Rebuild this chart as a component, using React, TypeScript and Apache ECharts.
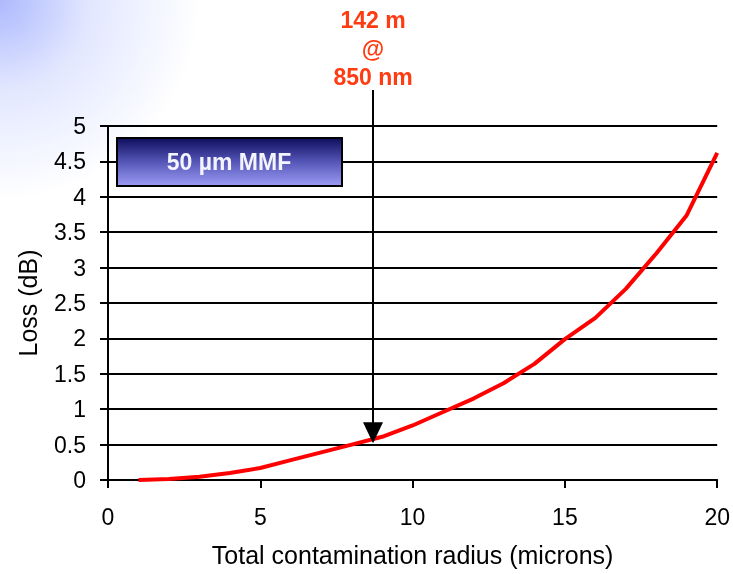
import React, { useEffect, useRef } from "react";
import * as echarts from "echarts";

const radius: number[] = [1, 2, 3, 4, 5, 6, 7, 8, 9, 10, 11, 12, 13, 14, 15, 16, 17, 18, 19, 20];
const loss: number[] = [0, 0.015, 0.045, 0.1, 0.17, 0.28, 0.39, 0.5, 0.61, 0.77, 0.96, 1.15, 1.37, 1.64, 1.99, 2.29, 2.7, 3.2, 3.74, 4.62];
const annotationLines: string[] = ["142 m", "@", "850 nm"];
const arrowPoint: number[] = [8.7, 0.52];
const boxLabel = "50 µm MMF";
const xName = "Total contamination radius (microns)";
const yName = "Loss (dB)";

const bgStops = [
  { offset: 0, color: "#adb9fd" },
  { offset: 0.45, color: "#e2e7ff" },
  { offset: 1, color: "#ffffff" },
];

export default function App() {
  const ref = useRef<HTMLDivElement>(null);
  useEffect(() => {
    if (!ref.current) return;
    const chart = echarts.init(ref.current, null, { renderer: "svg" });
    const font = "Liberation Sans, Arial, sans-serif";
    chart.setOption({
      animation: false,
      backgroundColor: "transparent",
      grid: { left: 108, right: 13, top: 126, bottom: 94, containLabel: false },
      xAxis: {
        type: "value",
        min: 0,
        max: 20,
        interval: 5,
        name: xName,
        nameLocation: "middle",
        nameGap: 62,
        nameTextStyle: { fontFamily: font, fontSize: 25, color: "#000" },
        axisLine: { show: true, lineStyle: { color: "#000", width: 2 } },
        axisTick: { show: true, length: 8, lineStyle: { color: "#000", width: 2 } },
        axisLabel: { fontFamily: font, fontSize: 23, color: "#000", margin: 25 },
        splitLine: { show: false },
      },
      yAxis: {
        type: "value",
        min: 0,
        max: 5,
        interval: 0.5,
        name: yName,
        nameLocation: "middle",
        nameGap: 68,
        nameTextStyle: { fontFamily: font, fontSize: 25, color: "#000" },
        axisLine: { show: true, lineStyle: { color: "#000", width: 2 } },
        axisTick: { show: true, length: 8, lineStyle: { color: "#000", width: 2 } },
        axisLabel: { fontFamily: font, fontSize: 23, color: "#000", margin: 22 },
        splitLine: { show: true, lineStyle: { color: "#000", width: 2 } },
      },
      series: [
        {
          type: "line",
          data: radius.map((r, i) => [r, loss[i]]),
          showSymbol: false,
          symbol: "none",
          lineStyle: { color: "#ff0000", width: 4 },
          z: 3,
        },
      ],
    });
    const tip = chart.convertToPixel({ gridIndex: 0 }, arrowPoint) as number[];
    const cx = tip[0];
    const graphic: any[] = [
      {
        type: "rect",
        shape: { x: 84, y: 106, width: 18, height: 14.5 },
        style: { fill: new echarts.graphic.RadialGradient(0, 0, 200, bgStops, true) },
        z: 100,
      },
      {
        type: "line",
        shape: { x1: cx, y1: 90, x2: cx, y2: tip[1] - 20 },
        style: { stroke: "#000", lineWidth: 2 },
        z: 100,
      },
      {
        type: "polygon",
        shape: { points: [[cx - 10, tip[1] - 21], [cx + 10, tip[1] - 21], [cx, tip[1]]] },
        style: { fill: "#000" },
        z: 100,
      },
      {
        type: "rect",
        shape: { x: 117, y: 138, width: 225, height: 48 },
        style: {
          fill: new echarts.graphic.LinearGradient(0, 0, 0, 1, [
            { offset: 0, color: "#0e0e5e" },
            { offset: 0.5, color: "#5656b8" },
            { offset: 1, color: "#9c9cf4" },
          ]),
          stroke: "#000",
          lineWidth: 2,
        },
        z: 100,
      },
      {
        type: "text",
        x: 229,
        y: 162,
        style: {
          text: boxLabel,
          fill: "#f4f4ff",
          font: `bold 23px ${font}`,
          align: "center",
          verticalAlign: "middle",
        },
        z: 101,
      },
    ];
    annotationLines.forEach((t, i) => {
      graphic.push({
        type: "text",
        x: cx,
        y: 20 + i * 28.5,
        style: {
          text: t,
          fill: "#ff3b12",
          font: `bold 23px ${font}`,
          align: "center",
          verticalAlign: "middle",
        },
        z: 101,
      });
    });
    chart.setOption({ graphic });
    return () => chart.dispose();
  }, []);
  return (
    <div
      style={{
        position: "fixed",
        left: 0,
        top: 0,
        width: 733,
        height: 574,
        background: "radial-gradient(circle at 0 0, #adb9fd 0px, #e2e7ff 90px, #ffffff 200px)",
      }}
    >
      <div ref={ref} style={{ width: 733, height: 574 }} />
    </div>
  );
}
